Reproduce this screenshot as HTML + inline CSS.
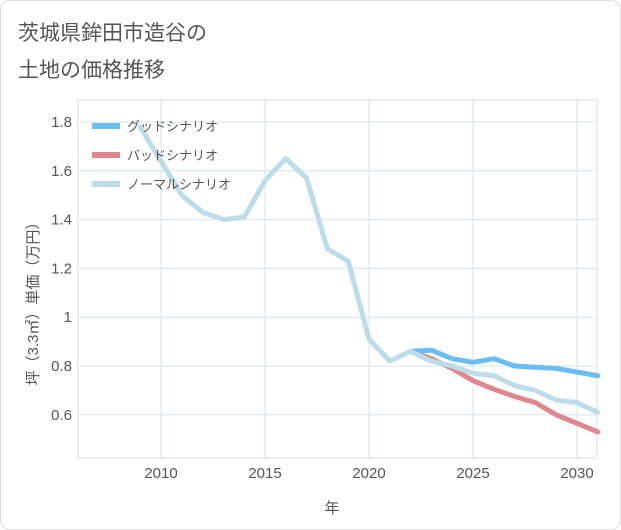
<!DOCTYPE html>
<html><head><meta charset="utf-8"><style>
body{margin:0;background:#fff;}
#card{position:absolute;left:0;top:0;width:619px;height:528px;border:1px solid #ddd;border-radius:10px;background:#fff;font-family:"Liberation Sans","Noto Sans CJK JP",sans-serif;}
</style></head><body>
<div id="card">
<svg id="chart" width="621" height="530" style="position:absolute;left:-1px;top:-1px">
<text x="18" y="40" font-size="21" fill="#555" font-family="Liberation Sans,Noto Sans CJK JP,sans-serif">茨城県鉾田市造谷の</text>
<text x="18" y="77" font-size="21" fill="#555" font-family="Liberation Sans,Noto Sans CJK JP,sans-serif">土地の価格推移</text>
<g id="grid"></g><g id="series"></g><g id="axes"></g>
<text x="332" y="513" font-size="15" fill="#555" text-anchor="middle" font-family="Liberation Sans,Noto Sans CJK JP,sans-serif">年</text>
<text transform="translate(38,300) rotate(-90)" font-size="15" fill="#555" text-anchor="middle" font-family="Liberation Sans,Noto Sans CJK JP,sans-serif">坪（3.3㎡）単価（万円）</text>
<g id="legend"></g>
</svg></div>
<script>
const years=[2009,2010,2011,2012,2013,2014,2015,2016,2017,2018,2019,2020,2021,2022,2023,2024,2025,2026,2027,2028,2029,2030,2031];
const normal=[1.78,1.64,1.50,1.43,1.40,1.41,1.56,1.65,1.57,1.28,1.23,0.91,0.82,0.86,0.82,0.80,0.77,0.76,0.72,0.70,0.66,0.65,0.61];
const goodYears=[2022,2023,2024,2025,2026,2027,2028,2029,2030,2031];
const good=[0.86,0.865,0.83,0.815,0.83,0.80,0.795,0.79,0.775,0.76];
const bad=[0.86,0.83,0.79,0.74,0.705,0.675,0.65,0.60,0.565,0.53];
const xTicks=[2010,2015,2020,2025,2030];
const yTicks=[0.6,0.8,1,1.2,1.4,1.6,1.8];
const yTickLabels=["0.6","0.8","1","1.2","1.4","1.6","1.8"];
const L=78,R=597,T=100,B=458;
const X=v=>161+(v-2010)*20.8;
const Y=v=>122+(1.8-v)*244;
const NS="http://www.w3.org/2000/svg";
function mk(tag,attrs,parent){const e=document.createElementNS(NS,tag);for(const k in attrs)e.setAttribute(k,attrs[k]);document.getElementById(parent).appendChild(e);return e;}
const gr=mk('rect',{x:L,y:T,width:R-L,height:B-T,fill:'none',stroke:'#ddd'},'grid');


xTicks.forEach(t=>{const l=mk('line',{x1:X(t),x2:X(t),y1:T,y2:B,stroke:'#d6e4ee'},'grid');


const tx=mk('text',{x:X(t),y:B+20,'font-size':15,fill:'#555','text-anchor':'middle'},'axes');tx.textContent=t;

});
yTicks.forEach((t,i)=>{const l=mk('line',{x1:L,x2:R,y1:Y(t),y2:Y(t),stroke:'#d6e4ee'},'grid');


const tx=mk('text',{x:L-6,y:Y(t)+5,'font-size':15,fill:'#555','text-anchor':'end'},'axes');tx.textContent=yTickLabels[i];

});
function line(xs,vs,color,name){const p=mk('polyline',{points:xs.map((x,i)=>X(x)+','+Y(vs[i])).join(' '),fill:'none',stroke:color,'stroke-width':5,'stroke-linejoin':'round','stroke-linecap':'round'},'series');

}
line(goodYears,bad,'#e0868f','bad-scenario-line');
line(goodYears,good,'#6bbcf3','good-scenario-line');
line(years,normal,'#bcdcea','normal-scenario-line');
const leg=[['グッドシナリオ','#6bbcf3'],['バッドシナリオ','#e0868f'],['ノーマルシナリオ','#bcdcea']];
leg.forEach((d,i)=>{const y=126+i*29;const l=mk('line',{x1:92,x2:120,y1:y,y2:y,stroke:d[1],'stroke-width':6},'legend');


const t=mk('text',{x:127,y:y+5,'font-size':13,fill:'#555'},'legend');t.textContent=d[0];

});
</script></body></html>
